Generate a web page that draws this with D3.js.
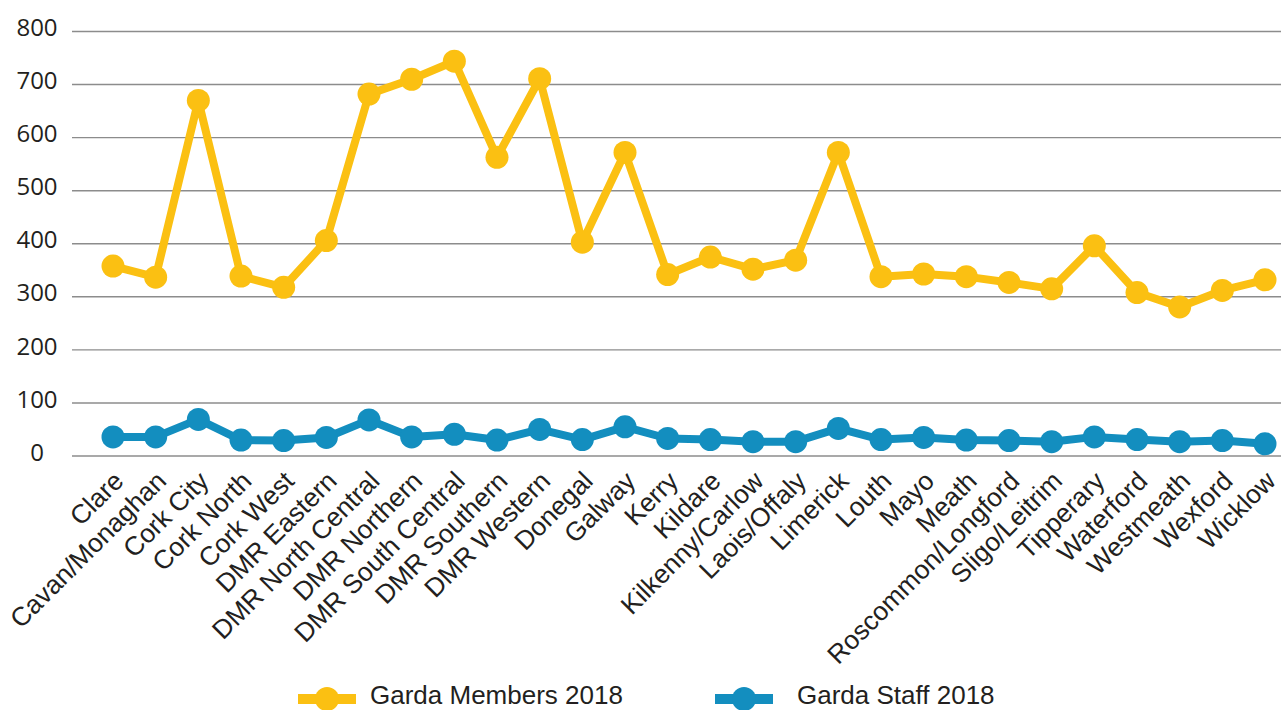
<!DOCTYPE html>
<html>
<head>
<meta charset="utf-8">
<script src="https://cdn.jsdelivr.net/npm/d3@7"></script>
<style>
  body { margin: 0; background: #fff; }
  svg { display: block; }
</style>
</head>
<body>
<div id="chart"></div>
<script>
// divisions, in the order they appear on the x axis
var divisions = ["Clare", "Cavan/Monaghan", "Cork City", "Cork North", "Cork West",
    "DMR Eastern", "DMR North Central", "DMR Northern", "DMR South Central", "DMR Southern",
    "DMR Western", "Donegal", "Galway", "Kerry", "Kildare", "Kilkenny/Carlow",
    "Laois/Offaly", "Limerick", "Louth", "Mayo", "Meath", "Roscommon/Longford",
    "Sligo/Leitrim", "Tipperary", "Waterford", "Westmeath", "Wexford", "Wicklow"];

var members2018 = [358, 337, 670, 339, 318, 406, 682, 710, 744, 563, 711, 403, 572, 342,
    375, 352, 369, 572, 338, 343, 338, 327, 315, 396, 308, 281, 312, 332];

var staff2018 = [36, 36, 69, 30, 29, 35, 68, 36, 41, 30, 50, 31, 55, 33,
    31, 27, 27, 52, 31, 35, 30, 29, 27, 36, 31, 27, 29, 23];

var yTicks = [0, 100, 200, 300, 400, 500, 600, 700, 800];

var seriesNames = ["Garda Members 2018", "Garda Staff 2018"];
var seriesColors = ["#fbc012", "#138ebf"];

var W = 1281, H = 710;

var svg = d3.select("#chart").append("svg")
    .attr("width", W)
    .attr("height", H);

var x = d3.scalePoint()
    .domain(divisions)
    .range([113, 1265]);

var y = d3.scaleLinear()
    .domain([0, 800])
    .range([456, 31.5]);

// gridlines
svg.append("g")
    .selectAll("line")
    .data(yTicks)
    .enter().append("line")
    .attr("x1", 72)
    .attr("x2", W)
    .attr("y1", function (d) { return y(d); })
    .attr("y2", function (d) { return y(d); })
    .attr("stroke", "#8c8c8c")
    .attr("stroke-width", 1.4);

// y labels
svg.append("g")
    .selectAll("text")
    .data(yTicks)
    .enter().append("text")
    .attr("x", 37)
    .attr("y", function (d) { return y(d) - 4; })
    .attr("dy", "0.36em")
    .attr("text-anchor", "middle")
    .style("font-family", "'Open Sans', sans-serif")
    .style("font-size", "24px")
    .style("fill", "#231f20")
    .text(function (d) { return d; });

// x labels, rotated
svg.append("g")
    .selectAll("text")
    .data(divisions)
    .enter().append("text")
    .attr("transform", function (d) { return "translate(" + (x(d) + 6.5) + ",477) rotate(-45)"; })
    .attr("dy", "0.3em")
    .attr("text-anchor", "end")
    .style("font-family", "'Liberation Sans', Arial, sans-serif")
    .style("font-size", "26.3px")
    .style("fill", "#231f20")
    .text(function (d) { return d; });

var line = d3.line()
    .x(function (d, i) { return x(divisions[i]); })
    .y(function (d) { return y(d); });

[members2018, staff2018].forEach(function (vals, k) {
    var g = svg.append("g");
    g.append("path")
        .datum(vals)
        .attr("d", line)
        .attr("fill", "none")
        .attr("stroke", seriesColors[k])
        .attr("stroke-width", 8)
        .attr("stroke-linejoin", "round");
    g.selectAll("circle")
        .data(vals)
        .enter().append("circle")
        .attr("cx", function (d, i) { return x(divisions[i]); })
        .attr("cy", function (d) { return y(d); })
        .attr("r", 11.5)
        .attr("fill", seriesColors[k]);
});

// legend
var legendX = [298, 715];
var legend = svg.append("g")
    .selectAll("g")
    .data(seriesNames)
    .enter().append("g")
    .attr("transform", function (d, i) { return "translate(" + legendX[i] + ",699)"; });

legend.append("line")
    .attr("x1", 0).attr("x2", 58)
    .attr("stroke", function (d, i) { return seriesColors[i]; })
    .attr("stroke-width", 10);
legend.append("circle")
    .attr("cx", 29)
    .attr("r", 12)
    .attr("fill", function (d, i) { return seriesColors[i]; });
legend.append("text")
    .attr("x", function (d, i) { return i === 0 ? 72 : 82; })
    .attr("y", 4.5)
    .style("font-family", "'Liberation Sans', Arial, sans-serif")
    .style("font-size", "26px")
    .style("fill", "#231f20")
    .text(function (d) { return d; });
</script>
</body>
</html>
